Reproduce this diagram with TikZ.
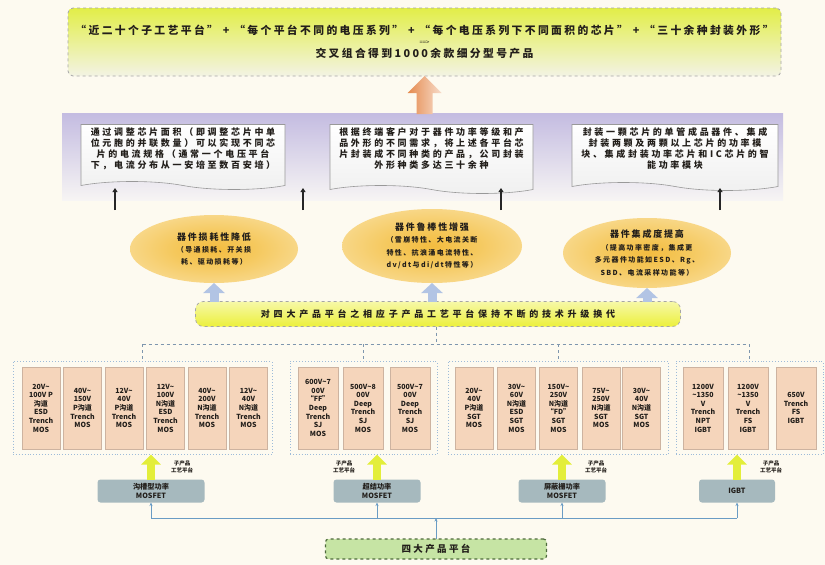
\documentclass[tikz,border=0pt]{standalone}
\usepackage{fontspec}
\setmainfont{Noto Sans CJK SC}
\usetikzlibrary{shapes.geometric,shapes.symbols,arrows.meta,calc}
\newcommand{\lsp}[1]{\addfontfeature{LetterSpace=#1}}
\definecolor{bgc}{HTML}{FDFAF0}
\definecolor{lav}{HTML}{C4BCE1}
\definecolor{lavb}{HTML}{F7F5F4}
\definecolor{topy}{HTML}{E2EE48}
\definecolor{topb}{HTML}{F3F3E4}
\definecolor{orng}{HTML}{E58A4E}
\definecolor{ell0}{HTML}{F3BC40}
\definecolor{ell1}{HTML}{F5C85C}
\definecolor{ell2}{HTML}{F8D88A}
\definecolor{ell3}{HTML}{FAE8B6}
\definecolor{ell4}{HTML}{FCF3D8}
\definecolor{barc}{HTML}{ECF03C}
\definecolor{peach}{HTML}{F5D5BB}
\definecolor{peachd}{HTML}{CDB3A0}
\definecolor{grpb}{HTML}{9DBBD9}
\definecolor{platf}{HTML}{A6B9BE}
\definecolor{ygreen}{HTML}{E3EE3A}
\definecolor{bline}{HTML}{6A9CC4}
\definecolor{botg}{HTML}{C6E4A4}
\definecolor{botd}{HTML}{4E6B3C}
\definecolor{barrow}{HTML}{B2C4E4}
\definecolor{txt}{HTML}{221E1A}
\pgfdeclareradialshading{ellsh}{\pgfpoint{0bp}{0bp}}{color(0bp)=(ell0); color(12bp)=(ell1); color(26bp)=(ell2); color(40bp)=(ell3); color(48bp)=(ell4); color(70bp)=(ell4)}
\begin{document}
\begin{tikzpicture}[x=1pt,y=-1pt,
  every node/.style={inner sep=0pt, outer sep=0pt, text=txt},
  topbox/.style={draw=black!35, dashed, line width=0.8pt, rounded corners=5pt, top color=topy, bottom color=topb},
  bandbox/.style={top color=lav, bottom color=lavb},
  docbox/.style={tape, tape bend top=none, tape bend bottom=out and in, tape bend height=8pt, draw=black!40, line width=0.6pt, top color=white, bottom color=black!6},
  doctext/.style={align=center, font=\bfseries\fontsize{9}{11}\selectfont\lsp{30}},
  ellbox/.style={ellipse, shading=ellsh, align=center},
  barbox/.style={draw=black!35, dashed, line width=0.7pt, rounded corners=8pt, top color=barc!45!white, bottom color=barc},
  grp/.style={draw=grpb, dotted, line width=0.9pt},
  chip/.style={fill=peach, draw=peachd, line width=0.4pt, align=center, minimum width=38pt, minimum height=82pt, font=\bfseries\fontsize{7}{8.6}\selectfont},
  plat/.style={fill=platf, rounded corners=3pt, align=center, minimum height=23pt, font=\bfseries\fontsize{7.2}{9}\selectfont},
  sub/.style={align=center, font=\bfseries\fontsize{5.5}{6.5}\selectfont},
  botbox/.style={draw=botd, dashed, line width=1.2pt, rounded corners=3pt, fill=botg, minimum width=221pt, minimum height=20pt, font=\bfseries\fontsize{9.5}{11}\selectfont\lsp{25}},
  blk/.style={black!85, line width=1.6pt, -{Triangle[width=5pt,length=4pt]}},
  barrowst/.style={barrow, line width=9pt, -{Triangle[width=21pt,length=10pt]}},
  yarrow/.style={ygreen, line width=8pt, -{Triangle[width=19pt,length=10pt]}},
  tree/.style={grpb!80!black, dashed, line width=0.7pt},
  bl/.style={bline, line width=0.9pt},
  bla/.style={bline, line width=0.9pt, -{Stealth[length=3.5pt,width=3pt]}}
]
\fill[bgc] (0,0) rectangle (825,565);
\useasboundingbox (0,0) rectangle (825,565);

% top summary box
\node[topbox, minimum width=713pt, minimum height=68pt] (top) at (424.5,42) {};
\node[font=\bfseries\fontsize{10.8}{12}\selectfont\lsp{22}] (top1) at (424.5,30) {“近二十个子工艺平台” + “每个平台不同的电压系列” + “每个电压系列下不同面积的芯片” + “三十余种封装外形”};
\node[font=\fontsize{6}{7}\selectfont] (top2) at (424.5,42.5) {==>};
\node[font=\bfseries\fontsize{10.8}{12}\selectfont\lsp{22}] (top3) at (424.5,53.5) {交叉组合得到1000余款细分型号产品};

% lavender band
\node[bandbox, minimum width=721pt, minimum height=87pt] (band) at (422.5,157) {};
% orange block arrow (upwards, from band to summary box)
\shade[left color=orng, right color=orng!30!white] (top.south) -- ++(17,17) -- ++(-9,0) -- ++(0,21) -- ++(-16,0) -- ++(0,-21) -- ++(-9,0) -- cycle;

% document boxes
\node[docbox, minimum width=204pt, minimum height=65pt] (doc1) at (183,153) {};
\node[docbox, minimum width=203pt, minimum height=69pt] (doc2) at (431.5,155) {};
\node[docbox, minimum width=206pt, minimum height=66pt] (doc3) at (675,153.5) {};
\node[doctext, anchor=north] (doc1t) at ($(doc1.north)+(0,3)$) {通过调整芯片面积（即调整芯片中单\\位元胞的并联数量）可以实现不同芯\\片的电流规格（通常一个电压平台\\下，电流分布从一安培至数百安培）};
\node[doctext, anchor=north] (doc2t) at ($(doc2.north)+(0,3)$) {根据终端客户对于器件功率等级和产\\品外形的不同需求，将上述各平台芯\\片封装成不同种类的产品，公司封装\\外形种类多达三十余种};
\node[doctext, anchor=north] (doc3t) at ($(doc3.north)+(0,3)$) {封装一颗芯片的单管成品器件、集成\\封装两颗及两颗以上芯片的功率模\\块、集成封装功率芯片和IC芯片的智\\能功率模块};

% small black arrows
\coordinate (k1) at (115,210);
\coordinate (k2) at (303,210);
\coordinate (k3) at (501,210);
\coordinate (k4) at (720,210);
\foreach \k in {k1,k2,k3,k4} \draw[blk] (\k) -- ++(0,-22);

% ellipses
\node[ellbox, minimum width=168pt, minimum height=68pt, font=\bfseries\fontsize{7}{12}\selectfont\lsp{20}] (e1) at (214,249) {{\fontsize{9}{12}\selectfont 器件损耗性降低}\\（导通损耗、开关损\\耗、驱动损耗等）};
\node[ellbox, minimum width=180pt, minimum height=74pt, font=\bfseries\fontsize{7}{12.5}\selectfont\lsp{20}] (e2) at (432,246) {{\fontsize{9}{12}\selectfont 器件鲁棒性增强}\\（雪崩特性、大电流关断\\特性、抗浪涌电流特性、\\dv/dt与di/dt特性等）};
\node[ellbox, minimum width=168pt, minimum height=70pt, font=\bfseries\fontsize{7}{12.5}\selectfont\lsp{20}] (e3) at (647,253) {{\fontsize{9}{12}\selectfont 器件集成度提高}\\（提高功率密度，集成更\\多元器件功能如ESD、Rg、\\SBD、电流采样功能等）};

% upgrade bar
\node[barbox, minimum width=485pt, minimum height=25pt, font=\bfseries\fontsize{9}{10}\selectfont\lsp{42}] (bar) at (438,314) {对四大产品平台之相应子产品工艺平台保持不断的技术升级换代};
\draw[barrowst] (e1.south |- bar.north) -- (e1.south);
\draw[barrowst] (e2.south |- bar.north) -- (e2.south);
\draw[barrowst] (e3.south |- bar.north) -- (e3.south);

% groups
\node[grp, minimum width=259pt, minimum height=93pt] (g1) at (142.5,408) {};
\node[grp, minimum width=147pt, minimum height=93pt] (g2) at (363.5,408) {};
\node[grp, minimum width=220pt, minimum height=93pt] (g3) at (558,408) {};
\node[grp, minimum width=147pt, minimum height=93pt] (g4) at (749.5,408) {};

\coordinate (hub) at (436,344);
\draw[tree] (bar.south -| hub) -- (hub);
\draw[tree] (g1.north |- hub) -- (g4.north |- hub);
\foreach \g in {g1,g2,g3,g4} \draw[tree] (\g.north |- hub) -- (\g.north);

% chips group 1
\node[chip] (a1) at (41,408) {20V\textasciitilde\\100V P\\沟道\\ESD\\Trench\\MOS};
\node[chip] (a2) at (82.5,408) {40V\textasciitilde\\150V\\P沟道\\Trench\\MOS};
\node[chip] (a3) at (124,408) {12V\textasciitilde\\40V\\P沟道\\Trench\\MOS};
\node[chip] (a4) at (165.5,408) {12V\textasciitilde\\100V\\N沟道\\ESD\\Trench\\MOS};
\node[chip] (a5) at (207,408) {40V\textasciitilde\\200V\\N沟道\\Trench\\MOS};
\node[chip] (a6) at (248.5,408) {12V\textasciitilde\\40V\\N沟道\\Trench\\MOS};
% group 2
\node[chip, minimum width=40pt] (b1) at (318,408) {600V\textasciitilde7\\00V\\“FF”\\Deep\\Trench\\SJ\\MOS};
\node[chip, minimum width=40pt] (b2) at (363,408) {500V\textasciitilde8\\00V\\Deep\\Trench\\SJ\\MOS};
\node[chip, minimum width=40pt] (b3) at (410,408) {500V\textasciitilde7\\00V\\Deep\\Trench\\SJ\\MOS};
% group 3
\node[chip] (c1) at (474,408) {20V\textasciitilde\\40V\\P沟道\\SGT\\MOS};
\node[chip] (c2) at (516.5,408) {30V\textasciitilde\\60V\\N沟道\\ESD\\SGT\\MOS};
\node[chip] (c3) at (558.5,408) {150V\textasciitilde\\250V\\N沟道\\“FD”\\SGT\\MOS};
\node[chip] (c4) at (601,408) {75V\textasciitilde\\250V\\N沟道\\SGT\\MOS};
\node[chip] (c5) at (641.5,408) {30V\textasciitilde\\40V\\N沟道\\SGT\\MOS};
% group 4
\node[chip, minimum width=40pt] (d1) at (703,408) {1200V\\\textasciitilde1350\\V\\Trench\\NPT\\IGBT};
\node[chip, minimum width=40pt] (d2) at (748,408) {1200V\\\textasciitilde1350\\V\\Trench\\FS\\IGBT};
\node[chip, minimum width=40pt] (d3) at (796,408) {650V\\Trench\\FS\\IGBT};

% platforms
\node[plat, minimum width=107pt] (p1) at (151,491) {沟槽型功率\\MOSFET};
\node[plat, minimum width=87pt] (p2) at (377,491) {超结功率\\MOSFET};
\node[plat, minimum width=87pt] (p3) at (562,491) {屏蔽栅功率\\MOSFET};
\node[plat, minimum width=76pt] (p4) at (737,491) {IGBT};

\draw[yarrow] (p1.north) -- (p1.north |- g1.south);
\draw[yarrow] (p2.north) -- (p2.north |- g2.south);
\draw[yarrow] (p3.north) -- (p3.north |- g3.south);
\draw[yarrow] (p4.north) -- (p4.north |- g4.south);

\node[sub] (s1) at (182,467) {子产品\\工艺平台};
\node[sub] (s2) at (344,467) {子产品\\工艺平台};
\node[sub] (s3) at (596,467) {子产品\\工艺平台};
\node[sub] (s4) at (771,467) {子产品\\工艺平台};

% bottom platform
\node[botbox] (bot) at (436,549) {四大产品平台};
\coordinate (bhub) at (436,518);
\draw[bla] (bot.north) -- (bhub);
\draw[bl] (p1.south |- bhub) -- (p4.south |- bhub);
\foreach \p in {p1,p2,p3,p4} \draw[bla] (\p.south |- bhub) -- (\p.south);
\end{tikzpicture}
\end{document}
